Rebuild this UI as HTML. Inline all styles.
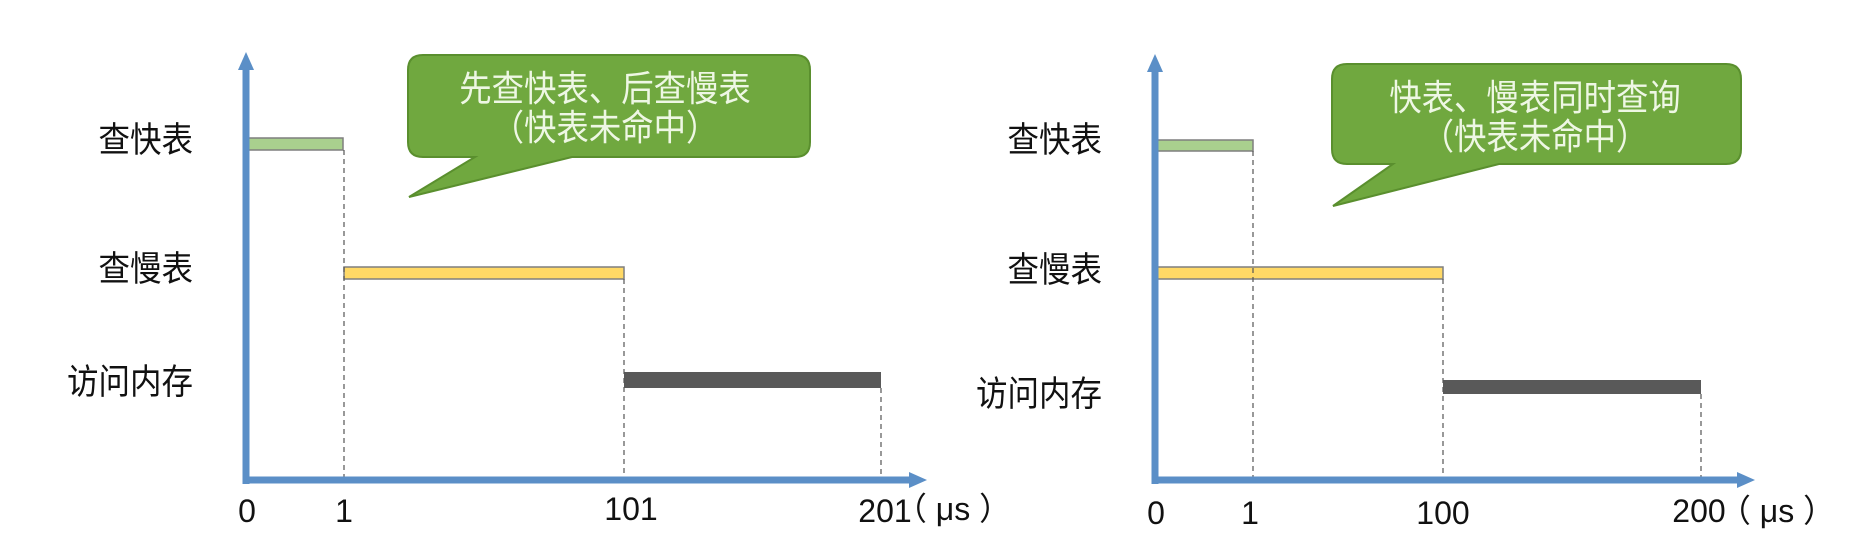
<!DOCTYPE html>
<html><head><meta charset="utf-8"><style>
html,body{margin:0;padding:0;background:#fff;}
svg{display:block;}
text{font-family:"Liberation Sans","Noto Sans CJK SC",sans-serif;}
</style></head><body>
<svg width="1861" height="547" viewBox="0 0 1861 547" xmlns="http://www.w3.org/2000/svg">
<rect width="1861" height="547" fill="#fff"/>
<!-- LEFT CHART -->
<g>
<rect x="246" y="138" width="97" height="12" fill="#a9d08e" stroke="#7f7f7f" stroke-width="1.5"/>
<rect x="344" y="267" width="280" height="12" fill="#ffd966" stroke="#7f7f7f" stroke-width="1.5"/>
<rect x="624" y="372" width="257" height="16" fill="#595959"/>
<g stroke="#555" stroke-width="1.2" stroke-dasharray="5,4">
<line x1="344" y1="150" x2="344" y2="480"/>
<line x1="624" y1="279" x2="624" y2="480"/>
<line x1="881" y1="388" x2="881" y2="480"/>
</g>
<line x1="246" y1="484" x2="246" y2="66" stroke="#5b8fc7" stroke-width="7"/>
<polygon points="246,52 238,70 254,70" fill="#5b8fc7"/>
<line x1="243" y1="480" x2="912" y2="480" stroke="#5b8fc7" stroke-width="7"/>
<polygon points="927,480 909,472 909,488" fill="#5b8fc7"/>
<path d="M423,55 H795 Q810,55 810,70 V142 Q810,157 795,157 H572 L409,197 L475,157 H423 Q408,157 408,142 V70 Q408,55 423,55 Z" fill="#70a83f" stroke="#5a8f2e" stroke-width="2"/>
<g transform="translate(605,0) scale(0.9,1)"><text x="0" y="101" font-size="36" fill="#eef7e4" text-anchor="middle">先查快表、后查慢表</text>
<text x="0" y="140" font-size="36" fill="#eef7e4" text-anchor="middle">（快表未命中）</text></g>
<g font-size="35" fill="#111">
<text transform="translate(193,152) scale(0.9,1)" text-anchor="end">查快表</text>
<text transform="translate(193,281) scale(0.9,1)" text-anchor="end">查慢表</text>
<text transform="translate(193,394) scale(0.9,1)" text-anchor="end">访问内存</text>
</g>
<g font-size="32" fill="#111" text-anchor="middle">
<text x="247" y="522">0</text>
<text x="344" y="522">1</text>
<text x="631" y="520">101</text>
<text x="885" y="522">201</text>
<text x="953" y="520">（ μs ）</text>
</g>
</g>
<!-- RIGHT CHART -->
<g>
<rect x="1155" y="140" width="98" height="11" fill="#a9d08e" stroke="#7f7f7f" stroke-width="1.5"/>
<rect x="1155" y="267" width="288" height="12" fill="#ffd966" stroke="#7f7f7f" stroke-width="1.5"/>
<rect x="1443" y="380" width="258" height="14" fill="#595959"/>
<g stroke="#555" stroke-width="1.2" stroke-dasharray="5,4">
<line x1="1253" y1="151" x2="1253" y2="480"/>
<line x1="1443" y1="279" x2="1443" y2="480"/>
<line x1="1701" y1="394" x2="1701" y2="480"/>
</g>
<line x1="1155" y1="484" x2="1155" y2="68" stroke="#5b8fc7" stroke-width="7"/>
<polygon points="1155,54 1147,72 1163,72" fill="#5b8fc7"/>
<line x1="1152" y1="480" x2="1740" y2="480" stroke="#5b8fc7" stroke-width="7"/>
<polygon points="1755,480 1737,472 1737,488" fill="#5b8fc7"/>
<path d="M1347,64 H1726 Q1741,64 1741,79 V149 Q1741,164 1726,164 H1499 L1333,206 L1393,164 H1347 Q1332,164 1332,149 V79 Q1332,64 1347,64 Z" fill="#70a83f" stroke="#5a8f2e" stroke-width="2"/>
<g transform="translate(1535,0) scale(0.9,1)"><text x="0" y="110" font-size="36" fill="#eef7e4" text-anchor="middle">快表、慢表同时查询</text>
<text x="0" y="149" font-size="36" fill="#eef7e4" text-anchor="middle">（快表未命中）</text></g>
<g font-size="35" fill="#111">
<text transform="translate(1102,152) scale(0.9,1)" text-anchor="end">查快表</text>
<text transform="translate(1102,282) scale(0.9,1)" text-anchor="end">查慢表</text>
<text transform="translate(1102,406) scale(0.9,1)" text-anchor="end">访问内存</text>
</g>
<g font-size="32" fill="#111" text-anchor="middle">
<text x="1156" y="524">0</text>
<text x="1250" y="524">1</text>
<text x="1443" y="524">100</text>
<text x="1699" y="522">200</text>
<text x="1777" y="522">（ μs ）</text>
</g>
</g>
</svg>
</body></html>
